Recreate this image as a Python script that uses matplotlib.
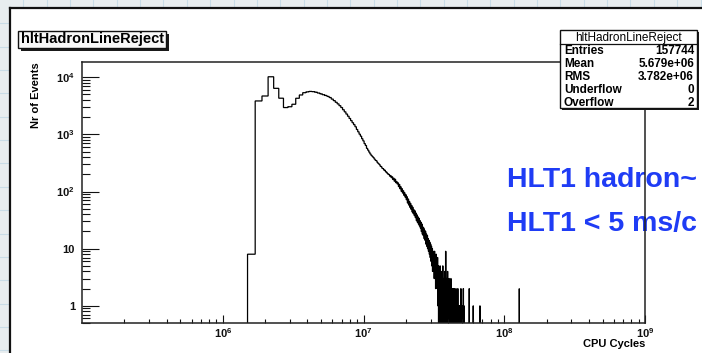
import numpy as np
import matplotlib
matplotlib.use("Agg")
import matplotlib.pyplot as plt
from matplotlib.patches import Rectangle
from matplotlib.lines import Line2D
from matplotlib.ticker import FixedLocator, FixedFormatter, LogLocator, NullFormatter

plt.rcParams['font.family'] = ['Liberation Sans', 'DejaVu Sans']
plt.rcParams['mathtext.fontset'] = 'custom'
plt.rcParams['mathtext.rm'] = 'Liberation Sans'
plt.rcParams['mathtext.bf'] = 'Liberation Sans:bold'

# histogram, linear bins of 2e5 cycles starting at 1.5e6
bin_start = 1.5e6
bin_width = 2e5
n_bins = 642
counts_main = [
    8, 3850, 4700, 10200, 6400, 4300, 2950, 3050, 3370, 4290,
    4900, 5370, 5550, 5650, 5600, 5480, 5300, 5120, 4950, 4800,
    4620, 4420, 4150, 3900, 3650, 3420, 3180, 2950, 2700, 2480,
    2270, 2080, 1900, 1740, 1600, 1480, 1360, 1220, 1110, 1010,
    930, 840, 770, 690, 640, 570, 530, 490, 455, 430,
    410, 392, 370, 352, 343, 320, 308, 297, 279, 272,
    256, 251, 238, 236, 222, 218, 207, 201,
    199, 186, 190, 175, 181, 163, 171, 152, 164, 143,
    150, 136, 142, 122, 133, 112, 121, 101, 112, 94,
    103, 86, 95, 80, 88,
    72, 81, 63, 74, 58, 67, 53, 62, 49, 57,
    44, 53, 41, 48, 38, 46, 35, 42, 31, 39,
    29, 36, 27, 34, 25,
    31, 23, 29, 20, 27, 18, 24, 17, 23, 15,
    21, 14, 20, 12, 18, 11, 17, 10, 15, 9,
    14, 8, 13, 7, 12,
    6, 11, 5, 10, 4, 9, 5, 8, 3, 9,
    4, 7, 2, 8, 3, 6, 2, 7, 1, 5,
    0, 4, 1, 0, 5, 2, 0, 3, 1, 4,
    0, 2, 5, 0, 1, 3, 0, 2, 4, 0,
    1, 9, 0, 2, 3, 0, 1, 4, 0, 2,
    1, 0, 3, 1, 0, 2, 0, 1, 3, 0,
    1, 0, 2, 1, 0, 0, 2, 1, 0, 1,
    2, 0, 1, 0, 1, 0, 2, 1, 0, 1,
    0, 0, 1, 2, 0, 1, 0, 1, 0, 0,
    1, 0, 1, 0, 0, 2, 0, 1, 0, 0,
    1, 0, 0, 1, 0, 2, 0, 0, 1, 0,
]
tail_x = [5.63e7, 6.01e7, 6.72e7, 1.28e8]
tail_n = [2, 1, 1, 2]

yticks = [1, 10, 100, 1000, 10000]
ytick_labels = ['1', '10', r'$\mathbf{10^{2}}$', r'$\mathbf{10^{3}}$', r'$\mathbf{10^{4}}$']
xticks = [1e6, 1e7, 1e8, 1e9]
xtick_labels = [r'$\mathbf{10^{6}}$', r'$\mathbf{10^{7}}$', r'$\mathbf{10^{8}}$', r'$\mathbf{10^{9}}$']

hist_name = 'hltHadronLineReject'
stats_rows = ['Entries', 'Mean', 'RMS', 'Underflow', 'Overflow']
stats_vals = ['157744', '5.679e+06', '3.782e+06', '0', '2']
note_lines = ['HLT1 hadron~', 'HLT1 < 5 ms/c']

counts = np.zeros(n_bins)
counts[:len(counts_main)] = counts_main
idx = ((np.array(tail_x) - bin_start) // bin_width).astype(int)
np.add.at(counts, idx, tail_n)
edges = bin_start + bin_width * np.arange(n_bins + 1)

W, H = 702, 353
fig = plt.figure(figsize=(W / 100, H / 100), dpi=100)
fig.patch.set_facecolor('#e8edef')


def fx(px):
    return px / W


def fy(py):
    return 1 - py / H


# whiteboard grid behind the canvas
step = 23.35
for k in range(1, 31):
    fig.add_artist(Line2D([fx(k * step)] * 2, [0, 1], color='#c9dce7', lw=0.8, zorder=-3))
for k in range(1, 16):
    fig.add_artist(Line2D([0, 1], [fy(k * step)] * 2, color='#c9dce7', lw=0.8, zorder=-3))

# ROOT canvas
fig.add_artist(Rectangle((fx(10), 0), 1, fy(9), facecolor='white', edgecolor='none', zorder=-2))
fig.add_artist(Line2D([fx(10)] * 2, [0, fy(8)], color='#111111', lw=1.6, zorder=-1))
fig.add_artist(Line2D([fx(10), 1], [fy(8)] * 2, color='#111111', lw=1.6, zorder=-1))

ax = fig.add_axes([fx(82), fy(323), fx(645) - fx(82), fy(62) - fy(323)])
ax.stairs(counts, edges, baseline=0, color='black', lw=0.9)
ax.set_xscale('log')
ax.set_yscale('log')
ax.set_xlim(1e5, 1e9)
ax.set_ylim(0.5, 1.85e4)

for s in ax.spines.values():
    s.set_color('#222222')
    s.set_linewidth(1.1)

ax.xaxis.set_major_locator(FixedLocator(xticks))
ax.xaxis.set_major_formatter(FixedFormatter(xtick_labels))
ax.xaxis.set_minor_locator(LogLocator(base=10, subs=range(2, 10), numticks=20))
ax.xaxis.set_minor_formatter(NullFormatter())
ax.yaxis.set_major_locator(FixedLocator(yticks))
ax.yaxis.set_major_formatter(FixedFormatter(ytick_labels))
ax.yaxis.set_minor_locator(LogLocator(base=10, subs=range(2, 10), numticks=20))
ax.yaxis.set_minor_formatter(NullFormatter())

ax.tick_params(which='both', direction='in', top=False, right=False, width=0.8, colors='#111111', labelsize=8)
ax.tick_params(axis='y', which='major', length=12, pad=5)
ax.tick_params(axis='y', which='minor', length=6)
ax.tick_params(axis='x', which='major', length=6, pad=2)
ax.tick_params(axis='x', which='minor', length=3)
for lbl in ax.get_xticklabels() + ax.get_yticklabels():
    lbl.set_fontweight('bold')

fig.text(fx(36), fy(62), 'Nr of Events', rotation=90, ha='center', va='top', fontsize=8, fontweight='bold')
fig.text(fx(645), fy(344), 'CPU Cycles', ha='right', va='center', fontsize=8, fontweight='bold')

# title box
fig.add_artist(Rectangle((fx(21), fy(51)), fx(169) - fx(21), fy(34) - fy(51), facecolor='#1a1a1a', edgecolor='none', zorder=4))
fig.add_artist(Rectangle((fx(18), fy(48)), fx(166) - fx(18), fy(31) - fy(48), facecolor='#f8f8f8', edgecolor='#111111', lw=1, zorder=5))
fig.text(fx(92), fy(39.5), hist_name, ha='center', va='center', fontsize=10.5, fontweight='bold', zorder=6)

# stats box
fig.add_artist(Rectangle((fx(562), fy(110)), fx(699) - fx(562), fy(32) - fy(110), facecolor='#1a1a1a', edgecolor='none', zorder=4))
fig.add_artist(Rectangle((fx(560), fy(108.5)), fx(697) - fx(560), fy(30) - fy(108.5), facecolor='white', edgecolor='#111111', lw=1, zorder=5))
fig.add_artist(Line2D([fx(560), fx(697)], [fy(44)] * 2, color='#111111', lw=0.9, zorder=6))
fig.text(fx(628.5), fy(41), hist_name, ha='center', va='baseline', fontsize=8.5, zorder=6)
for i, (name, val) in enumerate(zip(stats_rows, stats_vals)):
    yy = fy(53.5 + 13.1 * i)
    fig.text(fx(564), yy, name, ha='left', va='baseline', fontsize=8.5, fontweight='bold', zorder=6)
    fig.text(fx(694), yy, val, ha='right', va='baseline', fontsize=8.5, fontweight='bold', zorder=6)

# handwritten note, under the frame line
for line, base in zip(note_lines, [187, 231.5]):
    ax.text(fx(507), fy(base), line, transform=fig.transFigure, ha='left', va='baseline',
            fontsize=20.5, color='#1f3cf5', fontweight='bold', zorder=2, clip_on=False)

fig.savefig('out.png', dpi=100)
